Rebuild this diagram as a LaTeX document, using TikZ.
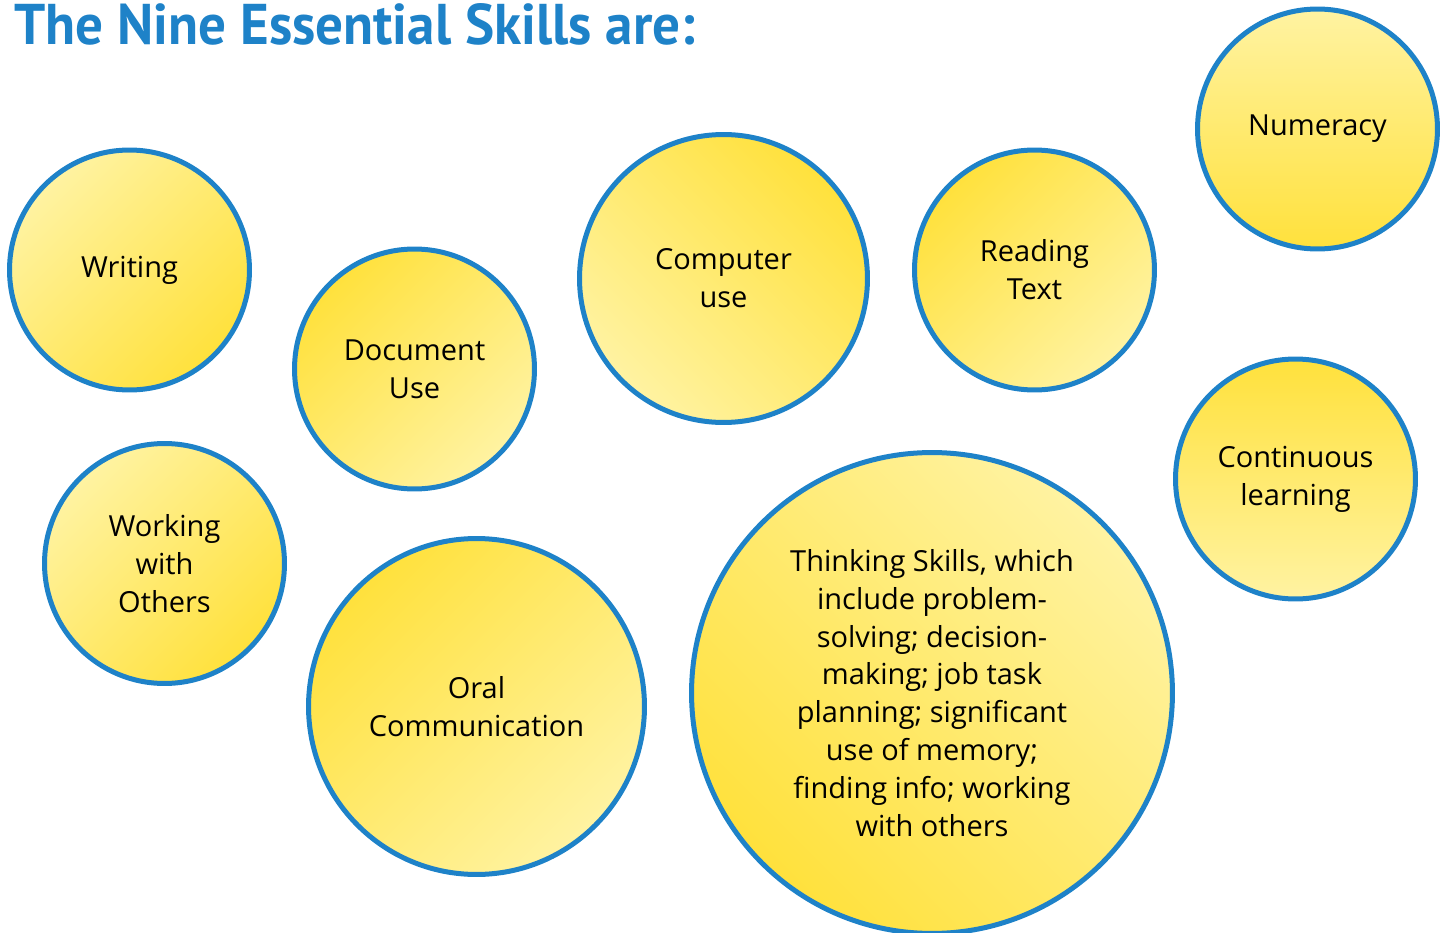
\documentclass[tikz,border=0pt]{standalone}
\usepackage{fontspec}
\usepackage{graphicx}
\setmainfont{Open Sans}
\newfontfamily\titlefont{PT Sans}

\definecolor{skillblue}{RGB}{30,130,200}
\definecolor{sundark}{RGB}{255,225,60}
\definecolor{sunlight}{RGB}{255,243,162}

\tikzset{
  skill/.style={circle, draw=skillblue, line width=0.1cm, align=center, inner sep=0pt,
    top color=sundark, bottom color=sunlight, shading angle=#1,
    font=\fontsize{16.5}{21.5}\selectfont},
  skill/.default=0
}

\begin{document}
\begin{tikzpicture}[x=0.02cm,y=-0.02cm]
\useasboundingbox (0,0) rectangle (1445,933);

%Title
\node[anchor=base west, inner sep=0pt, text=skillblue] (title) at (14,45)
  {\resizebox{13.62cm}{0.82cm}{\titlefont\bfseries The Nine Essential Skills are:}};

%Top row
\node[skill=225, minimum size=4.8cm] (writing) at (129.5,270) {Writing};
\node[skill=45, minimum size=4.8cm] (document) at (414.5,369) {Document\\Use};
\node[skill=-45, minimum size=5.76cm] (computer) at (723.5,278.5) {Computer\\use};
\node[skill=45, minimum size=4.8cm] (reading) at (1034.5,270) {Reading\\Text};
\node[skill=180, minimum size=4.8cm] (numeracy) at (1317.5,129) {Numeracy};

%Bottom row
\node[skill=225, minimum size=4.8cm] (working) at (164.5,563.5) {Working\\with\\Others};
\node[skill=45, minimum size=6.72cm] (oral) at (476.5,706.5) {Oral\\Communication};
\node[skill=135, minimum size=9.62cm] (thinking) at (932,693)
  {Thinking Skills, which\\include problem-\\solving; decision-\\making; job task\\planning; significant\\use of memory;\\finding info; working\\with others};
\node[skill=0, minimum size=4.8cm] (continuous) at (1295.5,479) {Continuous\\learning};

\end{tikzpicture}
\end{document}
